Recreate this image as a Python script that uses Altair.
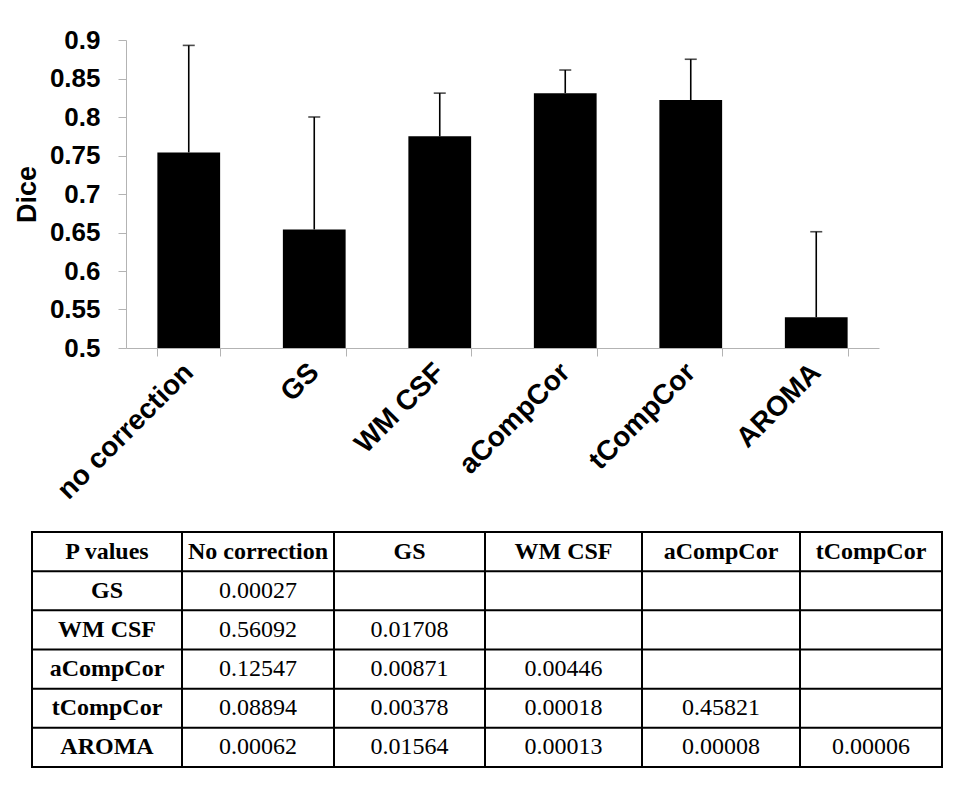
import altair as alt
import pandas as pd

# ---------------- data ----------------
methods = ["no correction", "GS", "WM CSF", "aCompCor", "tCompCor", "AROMA"]
dice_mean = [0.754, 0.654, 0.775, 0.831, 0.822, 0.540]
dice_sd = [0.139, 0.146, 0.056, 0.030, 0.053, 0.111]

y_ticks = [0.5, 0.55, 0.6, 0.65, 0.7, 0.75, 0.8, 0.85, 0.9]

table_header = ["P values", "No correction", "GS", "WM CSF", "aCompCor", "tCompCor"]
table_rows = ["GS", "WM CSF", "aCompCor", "tCompCor", "AROMA"]
p_values = [
    ["0.00027"],
    ["0.56092", "0.01708"],
    ["0.12547", "0.00871", "0.00446"],
    ["0.08894", "0.00378", "0.00018", "0.45821"],
    ["0.00062", "0.01564", "0.00013", "0.00008", "0.00006"],
]

# ---------------- layout constants ----------------
W, H = 753, 308
col_widths = [150, 152, 151, 157, 158, 142]   # table column widths (layout)
n_cols = len(table_header)
n_rows = len(table_rows) + 1
col_edges = [0]
for w in col_widths:
    col_edges.append(col_edges[-1] + w)
col_centers = [(col_edges[i] + col_edges[i + 1]) / 2 for i in range(n_cols)]
# table placement relative to the plot area (pixels)
tab_left = -94.0
tab_top, tab_bottom = 492.0, 727.0
row_h = (tab_bottom - tab_top) / n_rows
x_dom = [-tab_left, W - tab_left]
y_dom = [(0 - tab_top) / row_h, (H - tab_top) / row_h]

# ---------------- bar chart ----------------
bars_df = pd.DataFrame({"method": methods, "dice": dice_mean, "sd": dice_sd})
bars_df["upper"] = bars_df["dice"] + bars_df["sd"]
bars_df["base"] = 0.5

bx = alt.Scale(domain=methods, paddingInner=0.5, paddingOuter=0.25)
by = alt.Scale(domain=[0.5, 0.9], nice=False, zero=False)

x_axis = alt.Axis(
    labelAngle=-45,
    labelAlign="right",
    labelBaseline="middle",
    labelFont="Liberation Sans",
    labelFontWeight="bold",
    labelFontSize=28,
    labelColor="black",
    labelPadding=12,
    tickBand="extent",
    tickSize=8,
    tickColor="#b3b3b3",
    domainColor="#b3b3b3",
    grid=False,
)
y_axis = alt.Axis(
    values=y_ticks,
    format=".2~f",
    labelOverlap=False,
    title="Dice",
    titleFont="Liberation Sans",
    titleFontWeight="bold",
    titleFontSize=27,
    titleColor="black",
    titlePadding=8,
    labelFont="Liberation Sans",
    labelFontWeight="bold",
    labelFontSize=26,
    labelColor="black",
    labelPadding=18,
    tickSize=8,
    tickColor="#b3b3b3",
    domainColor="#b3b3b3",
    grid=False,
)

bars = alt.Chart(bars_df).mark_bar(color="black").encode(
    x=alt.X("method:N", sort=methods, title=None, scale=bx, axis=x_axis),
    y=alt.Y("dice:Q", scale=by, axis=y_axis),
    y2="base:Q",
)
err_line = alt.Chart(bars_df).mark_rule(color="black", strokeWidth=1.6).encode(
    x=alt.X("method:N", sort=methods, scale=bx, axis=None),
    y=alt.Y("dice:Q", scale=by, axis=None),
    y2="upper:Q",
)
err_cap = alt.Chart(bars_df).mark_tick(color="black", thickness=1.6, size=12).encode(
    x=alt.X("method:N", sort=methods, scale=bx, axis=None),
    y=alt.Y("upper:Q", scale=by, axis=None),
)

# ---------------- table ----------------
bold_cells, plain_cells = [], []
for c, h in enumerate(table_header):
    bold_cells.append({"col": col_centers[c], "row": 0.5, "label": h})
for r, lab in enumerate(table_rows):
    bold_cells.append({"col": col_centers[0], "row": r + 1.5, "label": lab})
    for c, v in enumerate(p_values[r]):
        plain_cells.append({"col": col_centers[c + 1], "row": r + 1.5, "label": v})

tx = alt.Scale(domain=x_dom, nice=False, zero=False)
ty = alt.Scale(domain=y_dom, nice=False, zero=False, reverse=True)

vlines = pd.DataFrame({"c": col_edges, "r0": 0, "r1": n_rows})
hlines = pd.DataFrame({"r": list(range(n_rows + 1)), "c0": 0, "c1": col_edges[-1]})

v_rule = alt.Chart(vlines).mark_rule(color="black", strokeWidth=2, strokeCap="square").encode(
    x=alt.X("c:Q", scale=tx, axis=None),
    y=alt.Y("r0:Q", scale=ty, axis=None),
    y2="r1:Q",
)
h_rule = alt.Chart(hlines).mark_rule(color="black", strokeWidth=2, strokeCap="square").encode(
    x=alt.X("c0:Q", scale=tx, axis=None),
    x2="c1:Q",
    y=alt.Y("r:Q", scale=ty, axis=None),
)
bold_text = alt.Chart(pd.DataFrame(bold_cells)).mark_text(
    font="Liberation Serif", fontSize=24, fontWeight="bold", color="black", baseline="middle"
).encode(
    x=alt.X("col:Q", scale=tx, axis=None),
    y=alt.Y("row:Q", scale=ty, axis=None),
    text="label:N",
)
plain_text = alt.Chart(pd.DataFrame(plain_cells)).mark_text(
    font="Liberation Serif", fontSize=24, color="black", baseline="middle"
).encode(
    x=alt.X("col:Q", scale=tx, axis=None),
    y=alt.Y("row:Q", scale=ty, axis=None),
    text="label:N",
)

chart = (
    alt.layer(bars, err_line, err_cap, v_rule, h_rule, bold_text, plain_text)
    .resolve_scale(x="independent", y="independent")
    .resolve_axis(x="independent", y="independent")
    .properties(width=W, height=H, padding={"left": 5, "top": 19, "right": 5, "bottom": 5})
    .configure_view(stroke=None)
)

chart.save("out.html", embed_options={"renderer": "svg", "actions": False})
